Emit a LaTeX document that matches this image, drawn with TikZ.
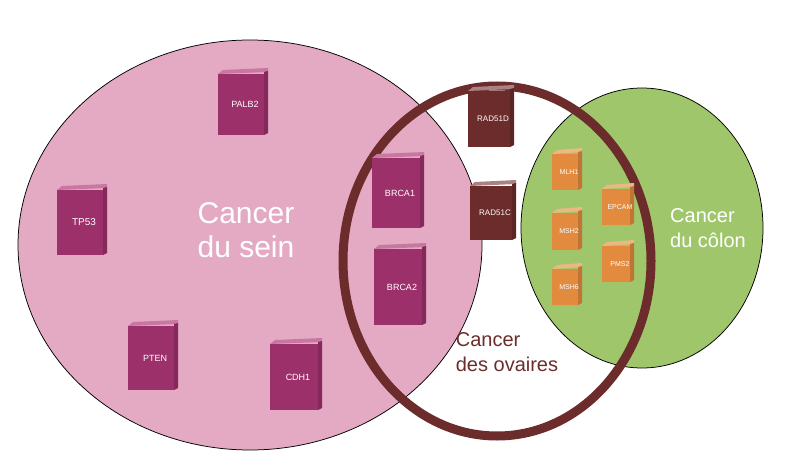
\documentclass[tikz,border=0pt]{standalone}
\usepackage{fontspec}
\setmainfont{Liberation Sans}
\definecolor{seinpink}{RGB}{228,170,196}
\definecolor{bookpink}{RGB}{156,48,106}
\definecolor{pagepink}{RGB}{200,120,160}
\definecolor{ringbrown}{RGB}{108,44,44}
\definecolor{pagebrown}{RGB}{170,130,130}
\definecolor{colongreen}{RGB}{160,198,108}
\definecolor{bookorange}{RGB}{226,138,62}
\definecolor{pageorange}{RGB}{236,184,130}
\tikzset{every picture/.style={line width=0.75pt}}
\tikzset{booklabel/.style={text=white,font=\fontsize{#1}{#1}\selectfont,inner sep=0.75pt},
  biglabel/.style={align=left,inner sep=0.75pt}}
% \bookicon{name}{x}{y}{w}{h}{cover}{pages}{text}{fontsize}
\newcommand{\bookicon}[9]{%
  \fill[#7] (#2,#3+6) -- (#2+5,#3+2) -- (#2+#4,#3) -- (#2+#4,#3+4) -- cycle;
  \fill[#6] (#2,#3+6) rectangle (#2+#4-4,#3+#5);
  \fill[#6!85!black] (#2+#4-4,#3+4) -- (#2+#4,#3+3) -- (#2+#4,#3+#5-2) -- (#2+#4-4,#3+#5) -- cycle;
  \node[booklabel=#9] (#1) at (#2+#4/2+2,#3+#5/2+3) {#8};
}
\begin{document}
\begin{tikzpicture}[x=1pt,y=1pt,yscale=-1,xscale=1]
\useasboundingbox (0,0) rectangle (787,476);

%Shape: Ellipse sein
\draw[fill=seinpink] (250,245) ellipse [x radius=232,y radius=205];
%Shape: Ellipse colon
\draw[fill=colongreen] (642,228) ellipse [x radius=121,y radius=140];
%Shape: Ring ovaires
\draw[ringbrown,line width=9pt] (497,261) ellipse [x radius=154,y radius=175];

% books
\bookicon{palb2}{218}{68}{50}{67}{bookpink}{pagepink}{PALB2}{9}
\bookicon{tp53}{57}{184}{50}{71}{bookpink}{pagepink}{TP53}{10}
\bookicon{pten}{128}{320}{50}{70}{bookpink}{pagepink}{PTEN}{9}
\bookicon{cdh1}{270}{338}{52}{72}{bookpink}{pagepink}{CDH1}{9}
\bookicon{brca1}{372}{152}{52}{76}{bookpink}{pagepink}{BRCA1}{9}
\bookicon{brca2}{374}{243}{52}{82}{bookpink}{pagepink}{BRCA2}{9}
\bookicon{rad51d}{468}{85}{46}{62}{ringbrown}{pagebrown}{RAD51D}{8}
\bookicon{rad51c}{470}{180}{46}{60}{ringbrown}{pagebrown}{RAD51C}{8}
\bookicon{mlh1}{552}{148}{30}{42}{bookorange}{pageorange}{MLH1}{7}
\bookicon{msh2}{552}{207}{30}{43}{bookorange}{pageorange}{MSH2}{7}
\bookicon{msh6}{552}{263}{30}{42}{bookorange}{pageorange}{MSH6}{7}
\bookicon{epcam}{602}{183}{32}{42}{bookorange}{pageorange}{EPCAM}{7}
\bookicon{pms2}{602}{240}{32}{42}{bookorange}{pageorange}{PMS2}{7}

% Text Node
\node[biglabel,text=white,font=\fontsize{30}{34}\selectfont] (sein) at (246,230) {Cancer\\du sein};
% Text Node
\node[biglabel,text=white,font=\fontsize{20}{25}\selectfont] (colon) at (708,228) {Cancer\\du côlon};
% Text Node
\node[biglabel,text=ringbrown,font=\fontsize{20}{25}\selectfont] (ovaires) at (507,352) {Cancer\\des ovaires};

\end{tikzpicture}
\end{document}
